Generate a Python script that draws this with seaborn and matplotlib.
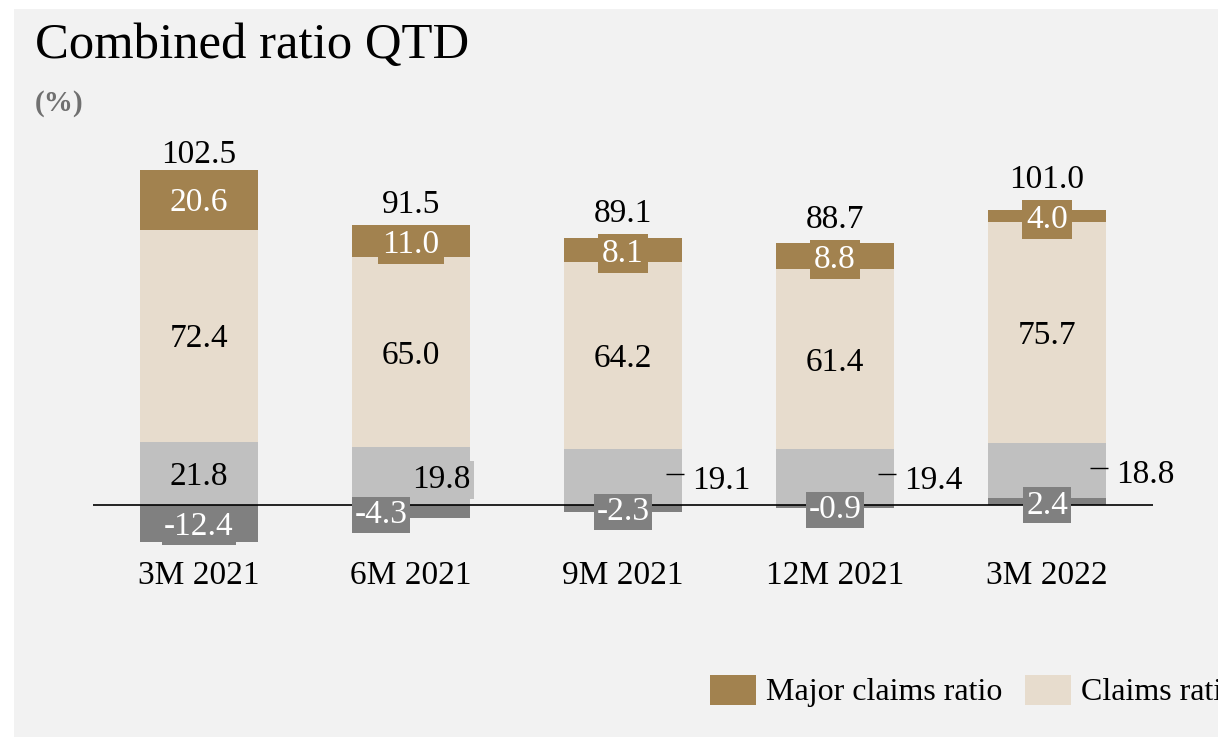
import numpy as np
import pandas as pd
import matplotlib.pyplot as plt
import seaborn as sns
from matplotlib.patches import Rectangle

# values (%)
periods = ['3M 2021', '6M 2021', '9M 2021', '12M 2021', '3M 2022']
major_claims = [20.6, 11.0, 8.1, 8.8, 4.0]
claims = [72.4, 65.0, 64.2, 61.4, 75.7]
expense = [21.8, 19.8, 19.1, 19.4, 18.8]
run_off = [-12.4, -4.3, -2.3, -0.9, 2.4]
totals = [102.5, 91.5, 89.1, 88.7, 101.0]

# where the expense / run-off labels sit for each bar
expense_pos = ['in', 'side', 'out', 'out', 'out']
runoff_shift = [0, -1, 0, 0, 0]

c_major = '#a2824f'
c_claims = '#e7dccd'
c_exp = '#c0c0c0'
c_run = '#808080'
bg = '#f2f2f2'

sns.set_theme(style='white')
plt.rcParams['font.family'] = ['Liberation Serif', 'DejaVu Serif']
plt.rcParams['text.color'] = 'black'

df = pd.DataFrame({'period': periods, 'major': major_claims, 'claims': claims,
                   'expense': expense, 'run_off': run_off, 'total': totals})
df['base'] = df['run_off'].clip(lower=0)
df['exp_top'] = df['base'] + df['expense']
df['claims_top'] = df['exp_top'] + df['claims']
df['major_top'] = df['claims_top'] + df['major']

W, H = 1218, 737
fig = plt.figure(figsize=(W / 100, H / 100), dpi=100)
fig.patch.set_facecolor('white')
fig.add_artist(Rectangle((14 / W, 0), 1, 1 - 9 / H, transform=fig.transFigure,
                         facecolor=bg, edgecolor='none', zorder=-5))
ax = fig.add_axes([93 / W, 182 / H, 1060 / W, 424 / H])
ax.set_facecolor('none')

w = 0.557
# stacked bars drawn as cumulative heights, tallest first
layers = [('major_top', c_major, 'Major claims ratio'),
          ('claims_top', c_claims, 'Claims ratio'),
          ('exp_top', c_exp, 'Expense ratio'),
          ('run_off', c_run, 'Run-off')]
for col, colr, lab in layers:
    sns.barplot(data=df, x='period', y=col, color=colr, width=w, linewidth=0,
                saturation=1, errorbar=None, label=lab, ax=ax, zorder=1)

handles, labels = ax.get_legend_handles_labels()
if ax.get_legend() is not None:
    ax.get_legend().remove()

ax.set_xlim(-0.5, 4.5)
ax.set_ylim(-17, 128)
ax.set_yticks([])
ax.set_xlabel('')
ax.set_ylabel('')
sns.despine(ax=ax, left=True, bottom=True)
ax.tick_params(axis='x', length=0, labelsize=24, pad=4, labelcolor='black')
ax.axhline(0, color='black', lw=1.2, zorder=3)

px = 72 / 100  # pixels -> points
fs = 24
ppu = 424 / 145  # pixels per data unit


def box(colr, pad=0.12):
    return dict(boxstyle=f'square,pad={pad}', fc=colr, ec='none')


for i, r in df.iterrows():
    # major claims
    y_maj = r.claims_top + r.major / 2
    ax.annotate(f'{r.major:.1f}', (i, y_maj), ha='center', va='center_baseline',
                fontsize=fs, color='white', bbox=box(c_major), zorder=5)
    # claims
    ax.annotate(f'{r.claims:.1f}', (i, r.exp_top + r.claims / 2),
                ha='center', va='center_baseline', fontsize=fs, color='black', zorder=5)
    # expense
    y_exp = r.base + r.expense / 2
    if expense_pos[i] == 'in':
        ax.annotate(f'{r.expense:.1f}', (i, y_exp), ha='center', va='center_baseline',
                    fontsize=fs, color='black', zorder=5)
    elif expense_pos[i] == 'side':
        ax.annotate(f'{r.expense:.1f}', (i, y_exp), xytext=(30 * px, 0),
                    textcoords='offset points', ha='center', va='center_baseline',
                    fontsize=fs, color='black', bbox=box(c_exp), zorder=5)
    else:
        right = i + w / 2
        ax.plot([right - 0.075, right + 0.01], [y_exp + 1, y_exp + 1],
                color='black', lw=1, zorder=5, solid_capstyle='butt')
        ax.annotate(f'{r.expense:.1f}', (right, y_exp), xytext=(10 * px, 0),
                    textcoords='offset points', ha='left', va='center_baseline',
                    fontsize=fs, color='black', zorder=5)
    # run-off
    ax.annotate(f'{r.run_off:.1f}', (i, r.run_off / 2), xytext=(runoff_shift[i] * 30 * px, 0),
                textcoords='offset points', ha='center', va='center_baseline',
                fontsize=fs, color='white', bbox=box(c_run, 0.08), zorder=6)
    # total on top, kept clear of the label box
    top = max(r.major_top, y_maj + 21 / ppu)
    ax.annotate(f'{r.total:.1f}', (i, top), xytext=(0, 7 * px),
                textcoords='offset points', ha='center', va='baseline',
                fontsize=fs, color='black', zorder=5)

fig.text(35 / W, 1 - 58 / H, 'Combined ratio QTD', fontsize=36.5, ha='left',
         va='baseline', color='black')
fig.text(35 / W, 1 - 111 / H, '(%)', fontsize=21, fontweight='bold', ha='left',
         va='baseline', color='#707070')

leg = fig.legend(handles[:2], labels[:2], loc='center left',
                 bbox_to_anchor=(710 / W, 1 - 691 / H), ncol=2, frameon=False,
                 fontsize=23, handlelength=1.45, handleheight=1.07, handletextpad=0.3,
                 columnspacing=0.7, borderpad=0, borderaxespad=0)
for t in leg.get_texts():
    t.set_color('black')

fig.savefig('out.png', dpi=100, facecolor=fig.get_facecolor())
